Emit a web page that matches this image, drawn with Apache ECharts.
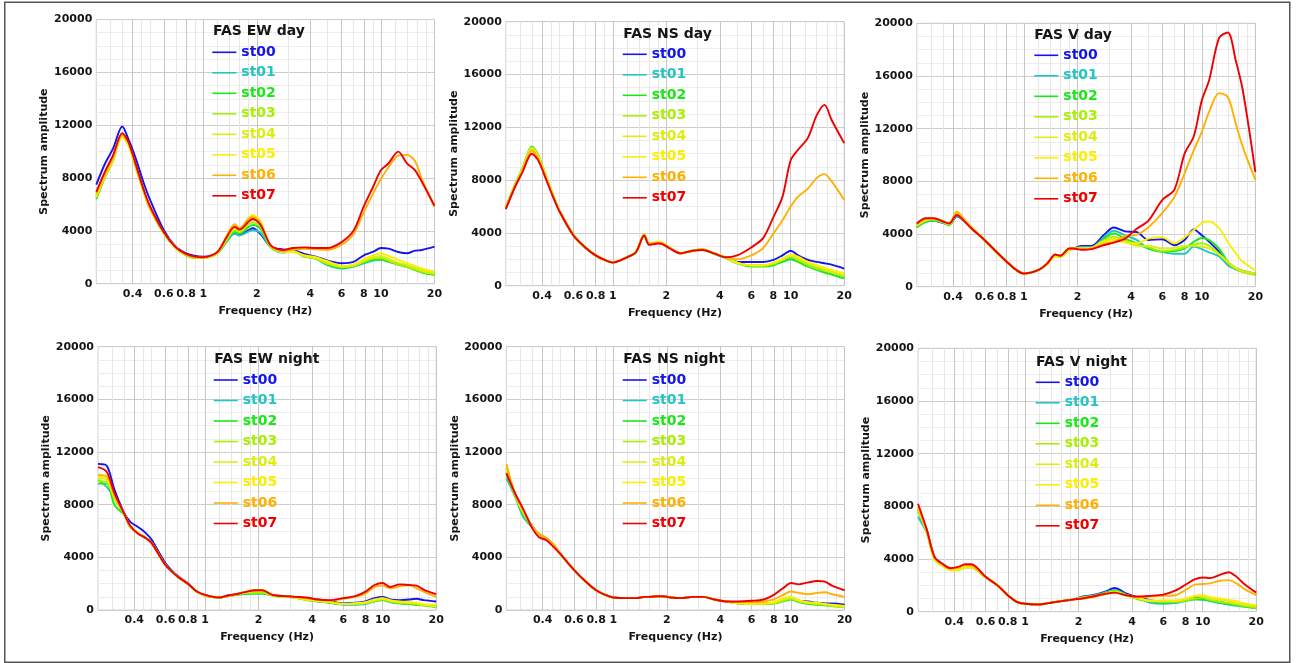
<!DOCTYPE html>
<html>
<head>
<meta charset="utf-8">
<script src="https://cdn.jsdelivr.net/npm/echarts@6/dist/echarts.min.js"></script>
<style>
html,body{margin:0;padding:0;background:#fff;}
#chart{width:1296px;height:663px;}
</style>
</head>
<body>
<div id="chart"></div>
<script>
// ---------- DATA ----------
const freqHz = [0.25, 0.28, 0.31, 0.35, 0.38, 0.42, 0.46, 0.5, 0.6, 0.7, 0.8, 0.9, 1, 1.2, 1.35, 1.5, 1.6, 1.8, 1.9, 2.1, 2.4, 2.8, 3.2, 3.7, 4.3, 5, 6, 7, 8, 9, 10, 11, 12.5, 14, 15.5, 17, 20];
const xLabelHz = [0.4, 0.6, 0.8, 1, 2, 4, 6, 8, 10, 20];
const xMinorGridHz = [0.3, 0.35, 0.45, 0.5, 0.7, 0.9, 1.2, 1.4, 1.6, 1.8, 3, 5, 7, 9, 12, 14, 16, 18];
const yTicks = [0, 4000, 8000, 12000, 16000, 20000];
const stations = ['st00', 'st01', 'st02', 'st03', 'st04', 'st05', 'st06', 'st07'];
const stationColors = ['#1414ee', '#22c6c2', '#18e818', '#a8f000', '#dcee10', '#fbee00', '#ffb000', '#f00000'];
const panelTitles = ['FAS EW day', 'FAS NS day', 'FAS V day', 'FAS EW night', 'FAS NS night', 'FAS V night'];

const ewDay = [
  [7500, 9100, 10200, 11900, 10900, 9350, 7700, 6400, 4050, 2800, 2300, 2100, 2050, 2350, 3300, 3800, 3700, 4050, 4200, 3750, 2800, 2600, 2550, 2250, 2050, 1750, 1550, 1650, 2150, 2400, 2700, 2650, 2400, 2300, 2500, 2550, 2800],
  [6600, 8200, 9400, 11300, 10600, 8800, 7100, 5750, 3850, 2750, 2150, 1950, 1950, 2300, 3150, 3800, 3650, 3950, 4050, 3850, 2750, 2350, 2450, 2100, 1900, 1400, 1150, 1300, 1550, 1750, 1800, 1650, 1450, 1300, 1200, 1000, 750],
  [6400, 8050, 9300, 11250, 10550, 8700, 7050, 5700, 3800, 2700, 2150, 1950, 1950, 2300, 3200, 3950, 3800, 4300, 4450, 4150, 2750, 2400, 2500, 2050, 1900, 1450, 1200, 1350, 1600, 1800, 1850, 1700, 1450, 1250, 1050, 850, 650],
  [6500, 8100, 9300, 11200, 10500, 8650, 7000, 5700, 3800, 2700, 2150, 1950, 1950, 2300, 3300, 4050, 3900, 4500, 4650, 4300, 2800, 2400, 2450, 2050, 1900, 1500, 1250, 1350, 1650, 1900, 1950, 1750, 1450, 1250, 1100, 900, 700],
  [6600, 8150, 9350, 11100, 10450, 8650, 7000, 5700, 3800, 2700, 2200, 2000, 1950, 2350, 3400, 4200, 4000, 4700, 4900, 4500, 2800, 2400, 2450, 2100, 1950, 1600, 1300, 1400, 1750, 2000, 2100, 1900, 1600, 1400, 1200, 1000, 800],
  [6700, 8200, 9400, 11150, 10500, 8700, 7050, 5750, 3850, 2750, 2200, 2000, 1950, 2350, 3500, 4350, 4150, 5000, 5200, 4700, 2850, 2400, 2400, 2150, 2000, 1700, 1350, 1450, 1850, 2150, 2300, 2100, 1800, 1550, 1350, 1150, 900],
  [6800, 8300, 9500, 11250, 10600, 8800, 7100, 5800, 3850, 2750, 2200, 2000, 1980, 2400, 3600, 4500, 4200, 4900, 5050, 4600, 2850, 2450, 2600, 2650, 2600, 2550, 2950, 3750, 5400, 6800, 7950, 8800, 9700, 9750, 9300, 7900, 5800],
  [6950, 8500, 9700, 11400, 10700, 8900, 7200, 5900, 3900, 2750, 2250, 2050, 2000, 2400, 3500, 4300, 4100, 4700, 4900, 4450, 2900, 2550, 2700, 2750, 2700, 2700, 3150, 4000, 5850, 7300, 8600, 9100, 10000, 9100, 8600, 7700, 5900]
];
const nsDay = [
  [5900, 7450, 8700, 10300, 9700, 8200, 6850, 5700, 3850, 2900, 2300, 1950, 1770, 2150, 2550, 3850, 3200, 3250, 3200, 2850, 2450, 2650, 2750, 2450, 2150, 1800, 1800, 1800, 1950, 2300, 2650, 2300, 1950, 1800, 1700, 1600, 1300],
  [5850, 7450, 8750, 10350, 9750, 8250, 6900, 5700, 3850, 2900, 2300, 1950, 1780, 2150, 2550, 3800, 3200, 3250, 3200, 2850, 2450, 2650, 2750, 2450, 2150, 1750, 1550, 1550, 1650, 1950, 2150, 1950, 1550, 1350, 1200, 1050, 750],
  [5950, 7600, 8900, 10550, 9900, 8350, 6900, 5700, 3850, 2850, 2300, 1950, 1770, 2150, 2500, 3850, 3150, 3250, 3200, 2850, 2450, 2650, 2700, 2400, 2100, 1700, 1450, 1450, 1550, 1800, 2000, 1800, 1450, 1200, 1000, 850, 550],
  [5900, 7550, 8850, 10500, 9850, 8300, 6900, 5700, 3850, 2900, 2300, 1950, 1770, 2150, 2550, 3900, 3200, 3300, 3250, 2850, 2450, 2650, 2750, 2450, 2150, 1700, 1500, 1500, 1650, 1950, 2200, 1950, 1550, 1300, 1150, 1000, 700],
  [5900, 7500, 8800, 10400, 9800, 8300, 6900, 5700, 3850, 2900, 2300, 1950, 1770, 2150, 2550, 3900, 3200, 3300, 3250, 2850, 2450, 2650, 2750, 2450, 2150, 1750, 1550, 1550, 1700, 2000, 2250, 2050, 1700, 1450, 1250, 1050, 800],
  [5900, 7500, 8800, 10400, 9800, 8300, 6900, 5700, 3850, 2900, 2300, 1950, 1770, 2150, 2550, 3900, 3200, 3300, 3250, 2850, 2450, 2650, 2750, 2450, 2150, 1750, 1550, 1550, 1750, 2050, 2350, 2200, 1800, 1550, 1350, 1200, 950],
  [5900, 7500, 8700, 10250, 9650, 8200, 6850, 5700, 3850, 2900, 2300, 1950, 1770, 2150, 2550, 3850, 3150, 3250, 3200, 2850, 2450, 2650, 2750, 2450, 2150, 2000, 2300, 2850, 3950, 4950, 6000, 6750, 7350, 8150, 8450, 7900, 6500],
  [5800, 7400, 8600, 10000, 9500, 8100, 6750, 5650, 3800, 2900, 2300, 1950, 1750, 2150, 2550, 3800, 3100, 3200, 3150, 2800, 2450, 2650, 2700, 2450, 2150, 2300, 2900, 3600, 5200, 6750, 9500, 10300, 11200, 12900, 13700, 12550, 10800]
];
const vDay = [
  [4550, 4950, 5000, 4850, 4700, 5350, 5000, 4550, 3550, 2650, 1900, 1300, 1000, 1250, 1750, 2400, 2350, 2850, 2900, 3100, 3100, 3900, 4500, 4200, 4150, 3550, 3600, 3150, 3550, 4350, 3900, 3400, 2650, 1650, 1400, 1200, 950],
  [4500, 4900, 5000, 4850, 4650, 5400, 5000, 4550, 3550, 2650, 1900, 1300, 1000, 1250, 1700, 2350, 2300, 2850, 2900, 3000, 3000, 3700, 4250, 3900, 3550, 2900, 2650, 2500, 2500, 3050, 2850, 2600, 2300, 1650, 1300, 1150, 900],
  [4550, 4950, 5050, 4900, 4700, 5450, 5050, 4550, 3550, 2650, 1900, 1300, 1000, 1250, 1700, 2350, 2300, 2800, 2850, 2950, 2950, 3600, 4050, 3650, 3300, 2900, 2650, 2700, 2900, 3400, 3700, 3550, 2900, 1900, 1400, 1200, 1000],
  [4600, 5000, 5100, 4900, 4700, 5500, 5050, 4550, 3550, 2650, 1900, 1300, 1000, 1250, 1700, 2300, 2250, 2800, 2850, 2900, 2950, 3500, 3800, 3500, 3200, 3000, 2700, 2800, 3000, 3200, 3300, 3100, 2500, 1800, 1350, 1100, 900],
  [4650, 5050, 5150, 4950, 4750, 5550, 5100, 4550, 3550, 2650, 1900, 1300, 1000, 1250, 1700, 2300, 2250, 2800, 2850, 2900, 2950, 3450, 3650, 3400, 3100, 3100, 2900, 2950, 3100, 3100, 3050, 2900, 2450, 1900, 1450, 1200, 1000],
  [4700, 5100, 5150, 4950, 4750, 5600, 5100, 4600, 3550, 2650, 1900, 1300, 1000, 1250, 1700, 2350, 2300, 2850, 2900, 2900, 2950, 3400, 3550, 3350, 3300, 3650, 3750, 3300, 3750, 4300, 4850, 4950, 4450, 3400, 2550, 1900, 1250],
  [4750, 5150, 5200, 5000, 4800, 5700, 5150, 4600, 3550, 2650, 1900, 1300, 1000, 1250, 1750, 2400, 2350, 2900, 2900, 2850, 2900, 3250, 3400, 3850, 3950, 4500, 5600, 6800, 8600, 10350, 11750, 13300, 14700, 14400, 12400, 10600, 8100],
  [4800, 5200, 5200, 4950, 4800, 5450, 5000, 4500, 3550, 2650, 1900, 1300, 1000, 1250, 1750, 2450, 2350, 2900, 2900, 2800, 2850, 3150, 3350, 3650, 4400, 5000, 6600, 7350, 10100, 11400, 14150, 15700, 18900, 19300, 17200, 14900, 8700]
];
const ewNight = [
  [11100, 10950, 9100, 7400, 6700, 6300, 5900, 5350, 3550, 2600, 2050, 1400, 1150, 950, 1100, 1200, 1250, 1350, 1350, 1300, 1150, 1050, 1000, 900, 800, 700, 500, 550, 650, 900, 1000, 800, 750, 800, 850, 750, 650],
  [9900, 9350, 8500, 7300, 6300, 5850, 5500, 5100, 3400, 2550, 2000, 1400, 1100, 950, 1050, 1150, 1200, 1250, 1250, 1250, 1100, 1000, 950, 800, 700, 550, 400, 400, 450, 650, 750, 600, 500, 450, 400, 350, 250],
  [9600, 9600, 7950, 7250, 6300, 5850, 5500, 5100, 3400, 2550, 2000, 1400, 1100, 950, 1050, 1150, 1200, 1250, 1250, 1250, 1100, 1000, 950, 750, 650, 550, 450, 500, 500, 700, 750, 600, 500, 450, 400, 350, 250],
  [9800, 9700, 8400, 7300, 6300, 5850, 5500, 5100, 3400, 2550, 2000, 1400, 1100, 950, 1050, 1150, 1250, 1300, 1300, 1300, 1100, 1000, 950, 800, 700, 600, 450, 450, 500, 700, 800, 650, 550, 500, 450, 350, 250],
  [10000, 9900, 8550, 7350, 6300, 5850, 5500, 5100, 3400, 2550, 2000, 1400, 1100, 950, 1050, 1200, 1300, 1400, 1450, 1450, 1150, 1000, 950, 800, 700, 600, 450, 500, 550, 750, 850, 700, 600, 550, 500, 400, 300],
  [10100, 10000, 8600, 7350, 6300, 5850, 5500, 5100, 3400, 2550, 2000, 1400, 1100, 950, 1050, 1200, 1300, 1450, 1500, 1500, 1150, 1000, 950, 800, 700, 600, 450, 500, 600, 800, 900, 750, 650, 600, 550, 450, 400],
  [10250, 10150, 8650, 7350, 6300, 5800, 5500, 5100, 3400, 2550, 2000, 1400, 1100, 950, 1050, 1200, 1300, 1450, 1500, 1500, 1150, 1050, 1000, 900, 800, 700, 850, 1000, 1250, 1750, 1850, 1650, 1800, 1900, 1650, 1400, 1000],
  [10850, 10500, 8850, 7350, 6400, 5800, 5500, 5100, 3400, 2550, 2000, 1400, 1150, 950, 1100, 1200, 1300, 1450, 1500, 1500, 1150, 1050, 1000, 950, 800, 750, 900, 1050, 1400, 1900, 2050, 1750, 1950, 1900, 1850, 1550, 1200]
];
const nsNight = [
  [10750, 8750, 7450, 6350, 5800, 5450, 4950, 4300, 3050, 2150, 1500, 1150, 950, 900, 900, 1000, 1000, 1050, 1050, 950, 900, 1000, 1000, 800, 650, 550, 500, 500, 550, 800, 950, 700, 650, 550, 500, 500, 400],
  [10000, 8600, 7100, 6250, 5750, 5400, 4900, 4250, 3050, 2150, 1500, 1150, 950, 900, 900, 1000, 1000, 1050, 1050, 950, 900, 1000, 1000, 800, 650, 500, 450, 450, 500, 750, 850, 650, 550, 450, 400, 350, 250],
  [10300, 8650, 7300, 6300, 5800, 5450, 4950, 4300, 3050, 2150, 1500, 1150, 950, 900, 900, 1000, 1000, 1050, 1050, 950, 900, 1000, 1000, 800, 650, 500, 450, 450, 500, 650, 800, 600, 450, 400, 350, 300, 200],
  [10500, 8700, 7400, 6300, 5800, 5450, 4950, 4300, 3050, 2150, 1500, 1150, 950, 900, 900, 1000, 1000, 1050, 1050, 950, 900, 1000, 1000, 800, 650, 500, 450, 450, 500, 700, 850, 650, 500, 450, 400, 300, 200],
  [10700, 8750, 7450, 6300, 5800, 5400, 4900, 4300, 3050, 2150, 1500, 1150, 950, 900, 900, 1000, 1000, 1050, 1050, 950, 900, 1000, 1000, 800, 650, 500, 450, 500, 550, 800, 950, 700, 550, 500, 450, 350, 250],
  [10900, 8800, 7500, 6300, 5800, 5400, 4900, 4300, 3050, 2150, 1500, 1150, 950, 900, 900, 1000, 1000, 1050, 1050, 950, 900, 1000, 1000, 800, 650, 550, 500, 500, 600, 900, 1000, 750, 600, 550, 450, 400, 300],
  [11100, 8800, 7600, 6300, 5800, 5450, 5000, 4350, 3050, 2150, 1500, 1150, 950, 900, 900, 1000, 1000, 1050, 1050, 950, 900, 1000, 1000, 800, 650, 600, 600, 650, 800, 1150, 1400, 1300, 1200, 1300, 1350, 1200, 1000],
  [10400, 8850, 7700, 6200, 5550, 5300, 4800, 4300, 3050, 2150, 1500, 1150, 950, 900, 900, 1000, 1000, 1050, 1050, 950, 900, 1000, 1000, 800, 650, 650, 700, 800, 1150, 1650, 2050, 1950, 2100, 2200, 2150, 1850, 1500]
];
const vNight = [
  [7800, 6200, 4150, 3550, 3300, 3350, 3550, 3500, 2650, 2000, 1250, 750, 600, 550, 650, 750, 800, 900, 950, 1150, 1250, 1500, 1800, 1400, 1100, 900, 700, 700, 900, 1100, 1000, 900, 750, 600, 500, 450, 400],
  [7200, 6000, 4100, 3500, 3250, 3300, 3450, 3400, 2600, 2000, 1250, 750, 600, 550, 650, 750, 800, 900, 950, 1100, 1200, 1450, 1650, 1300, 1050, 700, 600, 650, 800, 950, 900, 800, 650, 550, 450, 400, 300],
  [7600, 6100, 4100, 3500, 3250, 3300, 3400, 3400, 2600, 2000, 1250, 750, 600, 550, 650, 750, 800, 900, 950, 1100, 1200, 1400, 1600, 1300, 950, 800, 700, 750, 850, 950, 950, 850, 700, 600, 500, 400, 250],
  [7700, 6050, 3950, 3450, 3200, 3200, 3350, 3350, 2600, 2000, 1250, 750, 600, 550, 650, 750, 800, 900, 950, 1050, 1150, 1350, 1550, 1250, 1000, 800, 750, 750, 850, 1000, 1050, 900, 750, 650, 550, 450, 300],
  [7800, 6050, 3900, 3400, 3150, 3150, 3350, 3350, 2600, 2000, 1250, 750, 600, 550, 650, 750, 800, 900, 950, 1050, 1150, 1350, 1500, 1250, 1050, 850, 800, 800, 950, 1150, 1200, 1000, 900, 800, 650, 550, 400],
  [7850, 6100, 3950, 3450, 3200, 3200, 3400, 3400, 2650, 2000, 1250, 750, 600, 550, 650, 750, 800, 900, 950, 1050, 1150, 1350, 1500, 1250, 1050, 850, 850, 850, 1000, 1200, 1250, 1100, 1000, 900, 800, 650, 500],
  [7950, 6150, 4100, 3550, 3300, 3350, 3550, 3500, 2650, 2000, 1250, 750, 600, 550, 650, 750, 800, 900, 950, 1000, 1100, 1300, 1450, 1250, 1100, 1150, 1200, 1250, 1650, 2050, 2100, 2150, 2350, 2400, 2150, 1750, 1250],
  [8200, 6250, 4150, 3550, 3300, 3400, 3600, 3600, 2650, 2000, 1250, 750, 600, 550, 650, 750, 800, 900, 950, 1000, 1150, 1350, 1450, 1250, 1150, 1200, 1300, 1600, 2050, 2450, 2600, 2550, 2800, 3000, 2650, 2150, 1450]
];
const panelData = [ewDay, nsDay, vDay, ewNight, nsNight, vNight];

// ---------- LAYOUT ----------
const FONT = 'DejaVu Sans';
const gridBoxes = [
  {left: 96.3, top: 19.5, width: 338.2, height: 264.2},
  {left: 505.8, top: 21.7, width: 338.4, height: 264.0},
  {left: 916.8, top: 23.3, width: 338.6, height: 263.4},
  {left: 98.0, top: 346.7, width: 338.2, height: 263.3},
  {left: 506.4, top: 346.7, width: 338.2, height: 263.3},
  {left: 918.0, top: 348.3, width: 338.2, height: 263.4}
];
const titleAt = [[213, 31.7], [623.3, 34.3], [1034.3, 35], [214.3, 359.3], [623.3, 359.3], [1036, 362]];
const legendAt = [[212.3, 52.3], [622.7, 54.3], [1034.3, 55.3], [213.7, 380], [622.7, 380], [1035.7, 382.3]];

const lg = v => Math.log10(v);
const xMin = lg(0.25), xMax = lg(20);
const labelLog = xLabelHz.map(lg);
const minorLog = xMinorGridHz.map(lg);
const fmtHz = v => String(Math.round(Math.pow(10, v) * 10) / 10);

const grids = [], xAxes = [], yAxes = [], series = [], titles = [], legends = [];
const tickText = {fontFamily: FONT, fontSize: 11, fontWeight: 'bold', color: '#151515'};

for (let p = 0; p < 6; p++) {
  const g = gridBoxes[p];
  grids.push({left: g.left, top: g.top, width: g.width, height: g.height, show: true,
    borderColor: '#d2d2d2', borderWidth: 1, backgroundColor: 'transparent', containLabel: false});
  xAxes.push({
    type: 'value', gridIndex: p, min: xMin, max: xMax,
    axisLine: {show: false}, axisTick: {show: false, customValues: minorLog},
    axisLabel: Object.assign({customValues: labelLog, formatter: fmtHz, margin: 5}, tickText),
    splitLine: {show: true, lineStyle: {color: '#e6e6e6', width: 1}},
    name: 'Frequency (Hz)', nameLocation: 'middle', nameGap: 22,
    nameTextStyle: {fontFamily: FONT, fontSize: 11, fontWeight: 'bold', color: '#151515'}
  });
  xAxes.push({
    type: 'value', gridIndex: p, min: xMin, max: xMax, position: 'top',
    axisLine: {show: false}, axisTick: {show: false, customValues: labelLog},
    axisLabel: {show: false},
    splitLine: {show: true, lineStyle: {color: '#c6c6c6', width: 1}}
  });
  yAxes.push({
    type: 'value', gridIndex: p, min: yTicks[0], max: yTicks[yTicks.length - 1], interval: yTicks[1] - yTicks[0],
    axisLine: {show: false}, axisTick: {show: false},
    axisLabel: Object.assign({formatter: v => String(v), margin: 4}, tickText),
    splitLine: {show: true, lineStyle: {color: '#cdcdcd', width: 1}},
    minorTick: {show: false, splitNumber: 4},
    minorSplitLine: {show: true, lineStyle: {color: '#ececec', width: 1}},
    name: 'Spectrum amplitude', nameLocation: 'middle', nameGap: 42, nameRotate: 90,
    nameTextStyle: {fontFamily: FONT, fontSize: 11, fontWeight: 'bold', color: '#151515'}
  });
  titles.push({
    text: panelTitles[p], left: titleAt[p][0], top: titleAt[p][1] - 8, padding: 0,
    textStyle: {fontFamily: FONT, fontSize: 14, fontWeight: 'bold', color: '#161616', lineHeight: 16}
  });
  legends.push({
    orient: 'vertical', left: legendAt[p][0], top: legendAt[p][1] - 7, padding: 0,
    itemWidth: 24, itemHeight: 14, itemGap: 6.5, selectedMode: false,
    icon: 'path://M0 0H24V1.6H0Z', symbolKeepAspect: true,
    textStyle: {fontFamily: FONT, fontSize: 14, fontWeight: 'bold', lineHeight: 14},
    data: stations.map((n, i) => ({name: n, icon: 'path://M0 0H24V1.6H0Z', itemStyle: {color: stationColors[i]}, textStyle: {color: stationColors[i]}}))
  });
  const pd = panelData[p];
  for (let s = 0; s < stations.length; s++) {
    series.push({
      type: 'line', name: stations[s], xAxisIndex: 2 * p, yAxisIndex: p,
      symbol: 'none', showSymbol: false, smooth: 0.3, animation: false,
      lineStyle: {color: stationColors[s], width: 1.9},
      itemStyle: {color: stationColors[s]},
      data: freqHz.map((f, k) => [lg(f), pd[s][k]])
    });
  }
}

const chart = echarts.init(document.getElementById('chart'), null, {renderer: 'canvas'});
chart.setOption({
  animation: false,
  backgroundColor: '#ffffff',
  title: titles,
  legend: legends,
  grid: grids,
  xAxis: xAxes,
  yAxis: yAxes,
  series: series,
  graphic: [{
    type: 'rect', left: 4, top: 1.5, silent: true, z: 100,
    shape: {width: 1285, height: 660},
    style: {fill: 'transparent', stroke: '#555555', lineWidth: 1.5}
  }]
});
</script>
</body>
</html>
